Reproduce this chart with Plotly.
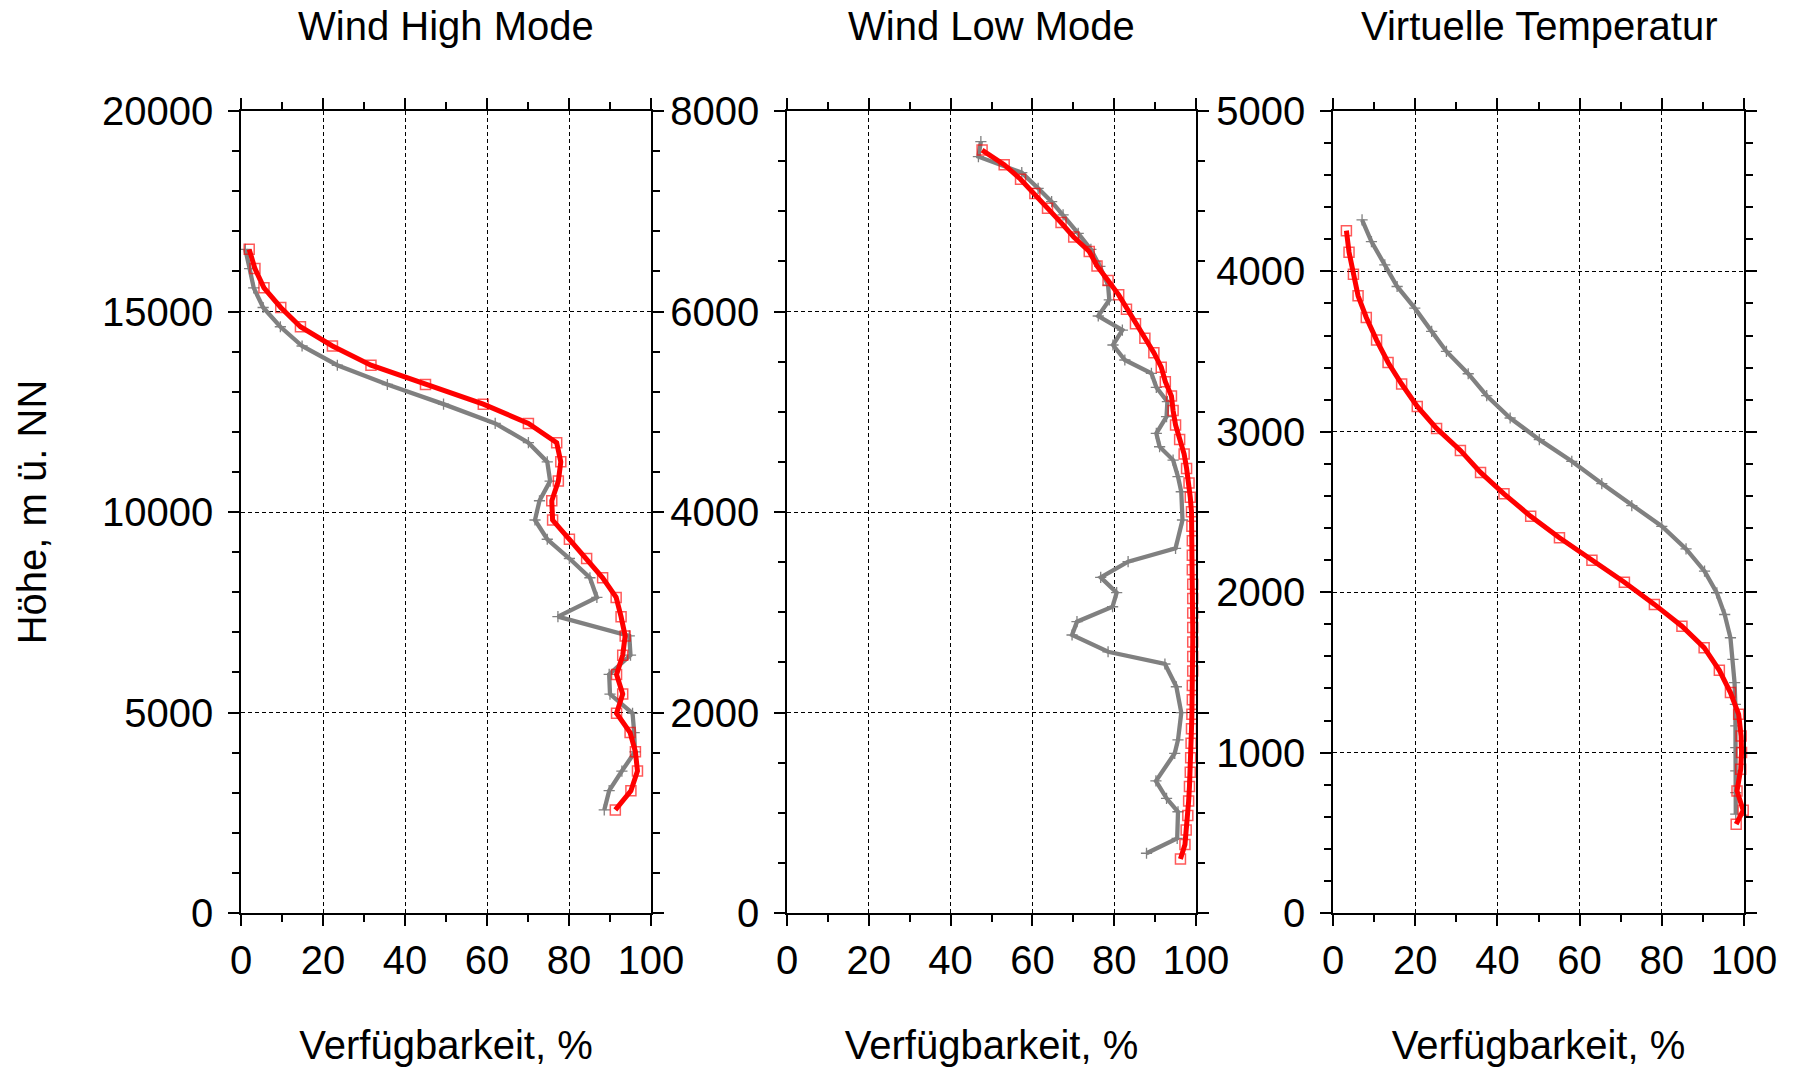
import plotly.graph_objects as go

# ---------------- Data ----------------
# Panel 1: Wind High Mode (height m, availability %)
whm_height = [2570, 3050, 3540, 4020, 4500, 4980, 5460, 5950, 6430, 6910,
              7390, 7870, 8360, 8840, 9320, 9800, 10280, 10770, 11250, 11730,
              12210, 12690, 13180, 13660, 14140, 14620, 15100, 15590, 16070, 16550]
whm_red = [91.3, 95.1, 96.7, 96.2, 94.9, 91.6, 93.1, 91.6, 93.1, 93.7,
           92.7, 91.5, 88.2, 84.3, 80.1, 76.0, 75.8, 77.4, 78.0, 77.0,
           70.1, 59.1, 45.0, 31.7, 22.3, 14.5, 9.7, 5.6, 3.4, 2.0]
whm_gray = [88.6, 89.8, 92.9, 96.1, 95.9, 95.5, 90.0, 89.8, 95.0, 94.7,
            77.3, 86.8, 85.1, 80.1, 74.7, 71.7, 72.8, 75.4, 74.7, 70.1,
            62.0, 49.4, 35.7, 23.5, 14.9, 9.6, 5.4, 3.1, 2.1, 1.05]

# Panel 2: Wind Low Mode
wlm_red_height = [539, 683, 828, 972, 1116, 1261, 1405, 1549, 1693, 1838,
                  1982, 2126, 2270, 2415, 2559, 2703, 2847, 2992, 3136, 3280,
                  3424, 3569, 3713, 3857, 4002, 4146, 4290, 4435, 4579, 4723,
                  4868, 5012, 5156, 5300, 5445, 5589, 5733, 5877, 6022, 6166,
                  6310, 6454, 6599, 6743, 6887, 7031, 7176, 7320, 7464, 7610]
wlm_red = [96.2, 97.3, 97.6, 98.0, 98.2, 98.4, 98.6, 98.7, 98.8, 98.9,
           99.0, 99.1, 99.1, 99.2, 99.2, 99.2, 99.2, 99.2, 99.2, 99.2,
           99.1, 99.1, 99.1, 99.0, 98.9, 98.6, 98.3, 97.7, 97.1, 96.0,
           95.0, 94.4, 94.0, 92.5, 91.5, 89.7, 87.5, 85.2, 83.0, 81.1,
           78.5, 75.8, 73.9, 70.1, 67.0, 63.7, 60.6, 57.1, 53.1, 47.7]
wlm_gray_height = [596, 745, 1010, 1144, 1317, 1593, 1726, 1998, 2257, 2484,
                   2606, 2773, 2906, 3055, 3195, 3348, 3504, 3638, 3920, 4202,
                   4352, 4518, 4651, 4785, 4951, 5100, 5244, 5383, 5516, 5666,
                   5815, 5955, 6115, 6264, 6450, 6620, 6780, 6963, 7096, 7229,
                   7385, 7544, 7694]
wlm_gray = [87.9, 95.4, 95.6, 92.8, 90.2, 94.8, 95.6, 96.4, 95.2, 92.4,
            78.5, 69.7, 70.9, 79.6, 80.6, 76.7, 83.4, 95.0, 96.7, 96.4,
            95.6, 94.4, 91.1, 90.3, 92.8, 93.0, 90.3, 89.1, 82.6, 79.7,
            82.0, 76.1, 78.8, 78.5, 76.5, 74.3, 71.2, 67.5, 64.7, 61.4,
            57.4, 46.8, 47.4]

# Panel 3: Virtuelle Temperatur
vt_red_height = [554, 640, 761, 896, 1000, 1103, 1239, 1374, 1513, 1654,
                 1788, 1924, 2062, 2199, 2339, 2473, 2613, 2747, 2884, 3021,
                 3158, 3298, 3432, 3572, 3713, 3848, 3983, 4120, 4254]
vt_red = [98.1, 99.8, 98.3, 99.2, 99.4, 99.3, 98.7, 96.7, 94.0, 90.3,
          84.9, 78.2, 70.9, 63.0, 55.1, 48.1, 41.6, 35.9, 31.0, 25.2,
          20.5, 16.7, 13.4, 10.6, 8.1, 6.1, 4.97, 3.9, 3.26]
vt_gray_height = [616, 751, 886, 1031, 1166, 1301, 1436, 1581, 1716, 1861,
                  1996, 2131, 2270, 2411, 2540, 2677, 2816, 2951, 3086, 3225,
                  3362, 3501, 3626, 3771, 3906, 4041, 4186, 4321]
vt_gray = [98.0, 98.0, 98.0, 98.0, 98.0, 97.9, 97.7, 97.3, 96.7, 95.3,
           93.4, 90.4, 85.9, 80.0, 72.7, 65.4, 58.1, 50.2, 43.1, 37.4,
           32.9, 27.6, 24.0, 19.9, 15.6, 12.6, 9.35, 7.07]

panel_titles = ["Wind High Mode", "Wind Low Mode", "Virtuelle Temperatur"]
x_title = "Verfügbarkeit, %"
y_title = "Höhe, m ü. NN"

# ---------------- Figure ----------------
FONT = "Liberation Sans, Arial, sans-serif"
W, H = 1798, 1067
ML, MR, MT, MB = 241, 54, 111, 154
PW = W - ML - MR
PH = H - MT - MB

px_domains = [(241, 651), (787, 1196), (1333, 1744)]
domains = [((a - ML) / PW, (b - ML) / PW) for a, b in px_domains]
y_ranges = [[0, 20000], [0, 8000], [0, 5000]]
y_dticks = [5000, 2000, 1000]
y_minor = [1000, 500, 200]

gray_c = "#808080"
red_c = "#ff0000"

fig = go.Figure()

series = [
    (whm_height, whm_gray, whm_height, whm_red),
    (wlm_gray_height, wlm_gray, wlm_red_height, wlm_red),
    (vt_gray_height, vt_gray, vt_red_height, vt_red),
]

for i, (gh, gx, rh, rx) in enumerate(series):
    xa = "x" if i == 0 else f"x{i+1}"
    ya = "y" if i == 0 else f"y{i+1}"
    fig.add_trace(go.Scatter(
        x=gx, y=gh, xaxis=xa, yaxis=ya, mode="lines+markers",
        line=dict(color=gray_c, width=4.3),
        marker=dict(symbol="cross-thin-open", size=8, color=gray_c,
                    line=dict(color=gray_c, width=1.3)),
        cliponaxis=False, showlegend=False, hoverinfo="x+y"))
    fig.add_trace(go.Scatter(
        x=rx, y=rh, xaxis=xa, yaxis=ya, mode="lines+markers",
        line=dict(color=red_c, width=5),
        marker=dict(symbol="square-open", size=10, color="rgba(255,0,0,0.65)",
                    line=dict(color="rgba(255,0,0,0.65)", width=1.5)),
        cliponaxis=False, showlegend=False, hoverinfo="x+y"))

axis_common = dict(
    ticks="outside", ticklen=11, tickwidth=1.5, tickcolor="black",
    showline=True, linecolor="black", linewidth=1.5, mirror="allticks",
    showgrid=True, gridcolor="black", griddash="4px,3px", gridwidth=1,
    zeroline=False, tickfont=dict(family=FONT, size=40, color="black"),
)

layout_axes = {}
for i in range(3):
    xk = "xaxis" if i == 0 else f"xaxis{i+1}"
    yk = "yaxis" if i == 0 else f"yaxis{i+1}"
    ya = "y" if i == 0 else f"y{i+1}"
    xa = "x" if i == 0 else f"x{i+1}"
    layout_axes[xk] = dict(
        axis_common, domain=list(domains[i]), anchor=ya, range=[0, 100],
        tick0=0, dtick=20,
        minor=dict(dtick=10, ticks="outside", ticklen=7, tickwidth=1.5,
                   tickcolor="black", showgrid=False),
        ticklabelstandoff=0,
        title=dict(text=x_title, font=dict(family=FONT, size=40, color="black"),
                   standoff=64),
    )
    ydict = dict(
        axis_common, domain=[0, 1], anchor=xa, range=y_ranges[i],
        tick0=0, dtick=y_dticks[i], tickformat="d",
        minor=dict(dtick=y_minor[i], ticks="outside", ticklen=7, tickwidth=1.5,
                   tickcolor="black", showgrid=False),
        ticklabelstandoff=7,
    )
    if i == 0:
        ydict["title"] = dict(text=y_title,
                              font=dict(family=FONT, size=40, color="black"),
                              standoff=43)
    layout_axes[yk] = ydict

fig.update_layout(**layout_axes)

annotations = []
for i, t in enumerate(panel_titles):
    cx = (domains[i][0] + domains[i][1]) / 2
    annotations.append(dict(
        text=t, x=cx, y=1 + (MT - 26) / PH, xref="paper", yref="paper",
        xanchor="center", yanchor="middle", showarrow=False,
        font=dict(family=FONT, size=40, color="black")))

fig.update_layout(
    width=W, height=H,
    margin=dict(l=ML, r=MR, t=MT, b=MB, autoexpand=False),
    paper_bgcolor="white", plot_bgcolor="white",
    font=dict(family=FONT, color="black"),
    annotations=annotations,
    showlegend=False,
)

fig.write_html("out.html")
